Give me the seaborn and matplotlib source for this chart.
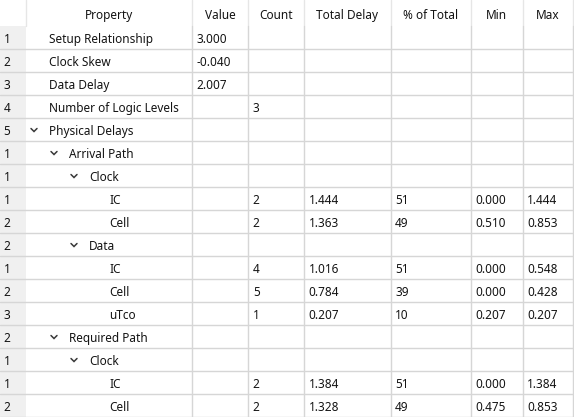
import matplotlib
matplotlib.use('Agg')
import matplotlib.pyplot as plt
from matplotlib.patches import Rectangle
import seaborn as sns

# ============ DADOS ============
headers = ['Property', 'Value', 'Count', 'Total Delay', '% of Total', 'Min', 'Max']

row_index = [1, 2, 3, 4, 5, 1, 1, 1, 2, 2, 1, 2, 3, 2, 1, 1, 2]
levels = [0, 0, 0, 0, 0, 1, 2, 3, 3, 2, 3, 3, 3, 1, 2, 3, 3]
expandable = [False, False, False, False, True, True, True, False, False,
              True, False, False, False, True, True, False, False]
properties = ['Setup Relationship', 'Clock Skew', 'Data Delay', 'Number of Logic Levels',
              'Physical Delays', 'Arrival Path', 'Clock', 'IC', 'Cell', 'Data',
              'IC', 'Cell', 'uTco', 'Required Path', 'Clock', 'IC', 'Cell']
values = ['3.000', '-0.040', '2.007', '', '', '', '', '', '', '', '', '', '', '', '', '', '']
counts = ['', '', '', '3', '', '', '', '2', '2', '', '4', '5', '1', '', '', '2', '2']
total_delay = ['', '', '', '', '', '', '', '1.444', '1.363', '', '1.016', '0.784', '0.207',
               '', '', '1.384', '1.328']
pct_total = ['', '', '', '', '', '', '', '51', '49', '', '51', '39', '10', '', '', '51', '49']
mins = ['', '', '', '', '', '', '', '0.000', '0.510', '', '0.000', '0.000', '0.207',
        '', '', '0.000', '0.475']
maxs = ['', '', '', '', '', '', '', '1.444', '0.853', '', '0.548', '0.428', '0.207',
        '', '', '1.384', '0.853']

# ============ LAYOUT ============
sns.set_theme(style='white')
plt.rcParams['font.family'] = ['Noto Sans', 'DejaVu Sans']

W, H = 574, 417
col_edges = [0, 25.7, 191.7, 248.3, 304.3, 390.7, 470.7, 522.7, 573]
header_h = 26
row_h = 23
text_color = '#141414'
grid_color = '#d6d6d6'
fs = 8.5

fig = plt.figure(figsize=(W / 100, H / 100), dpi=100)
ax = fig.add_axes([0, 0, 1, 1])
ax.set_xlim(0, W)
ax.set_ylim(H, 0)
ax.axis('off')

n = len(properties)

# fundo da coluna de indice
ax.add_patch(Rectangle((0, header_h), col_edges[1], n * row_h, color='#f0f0f0', lw=0, zorder=0))

# linhas de grade
for k in range(1, n + 1):
    y = header_h + k * row_h
    ax.plot([0, col_edges[-1]], [y, y], color=grid_color, lw=1, zorder=1)
for x in col_edges[1:]:
    ax.plot([x, x], [0, header_h], color='#e6e6e6', lw=1, zorder=1)
    if x != col_edges[1]:
        ax.plot([x, x], [header_h, H], color=grid_color, lw=1, zorder=1)

# cabecalho
for j, h in enumerate(headers):
    cx = (col_edges[j + 1] + col_edges[j + 2]) / 2
    ax.text(cx, header_h / 2 + 2, h, ha='center', va='center', fontsize=fs, color=text_color)

# linhas
columns = [values, counts, total_delay, pct_total, mins, maxs]
for i in range(n):
    cy = header_h + i * row_h + row_h / 2 + 2
    ax.text(3.5, cy, str(row_index[i]), ha='left', va='center', fontsize=fs, color=text_color)
    tx = 49 + 20 * levels[i]
    ax.text(tx, cy, properties[i], ha='left', va='center', fontsize=fs, color=text_color)
    if expandable[i]:
        ccx = tx - 15
        ax.plot([ccx - 3, ccx, ccx + 3], [cy - 3, cy, cy - 3],
                color='#3a3a3a', lw=1.1, solid_joinstyle='miter', zorder=2)
    for j, col in enumerate(columns):
        if col[i]:
            ax.text(col_edges[j + 2] + 4.5, cy, col[i], ha='left', va='center',
                    fontsize=fs, color=text_color)

plt.savefig('out.png', dpi=100)
plt.close()
